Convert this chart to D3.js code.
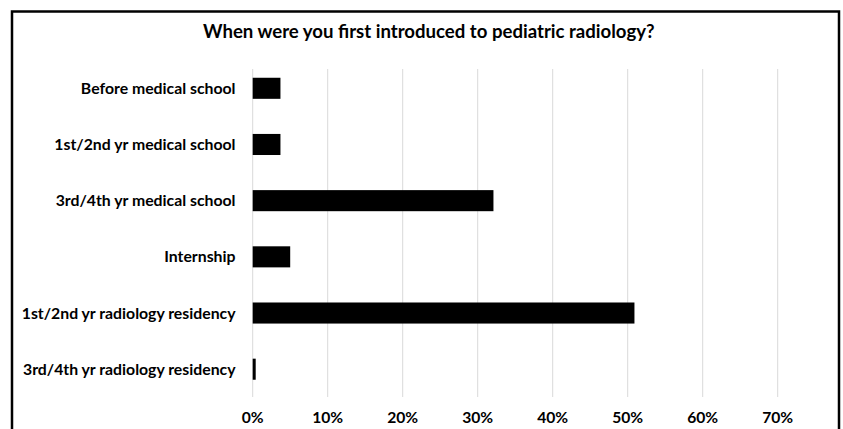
<!DOCTYPE html>
<html>
<head>
<meta charset="utf-8">
<script src="https://cdn.jsdelivr.net/npm/d3@7"></script>
<style>
  html, body { margin: 0; padding: 0; background: #fff; }
  svg { display: block; }
  text { font-family: Lato, "Open Sans", sans-serif; font-weight: bold; fill: #000; }
</style>
</head>
<body>
<svg id="chart" width="843" height="429"></svg>
<script>
const title = "When were you first introduced to pediatric radiology?";
const categories = [
  "Before medical school",
  "1st/2nd yr medical school",
  "3rd/4th yr medical school",
  "Internship",
  "1st/2nd yr radiology residency",
  "3rd/4th yr radiology residency"
];
const values = [0.037, 0.037, 0.321, 0.050, 0.509, 0.004];
const tickValues = [0, 0.1, 0.2, 0.3, 0.4, 0.5, 0.6, 0.7];

const svg = d3.select("#chart");
const W = 843, H = 429;

// frame
svg.append("rect")
  .attr("x", 12).attr("y", 11.5)
  .attr("width", 827).attr("height", 440)
  .attr("fill", "none").attr("stroke", "#000").attr("stroke-width", 2.5);

const x = d3.scaleLinear().domain([0, 0.7]).range([252.7, 777.7]);
const y = d3.scaleBand().domain(categories).range([60.2, 397.3]).paddingInner(0.625).paddingOuter(0.3125);

// gridlines
svg.append("g").selectAll("line").data(tickValues).join("line")
  .attr("x1", d => x(d)).attr("x2", d => x(d))
  .attr("y1", 69).attr("y2", 397)
  .attr("stroke", "#d9d9d9").attr("stroke-width", 1);

// bars
svg.append("g").selectAll("rect").data(values).join("rect")
  .attr("x", x(0))
  .attr("y", (d, i) => y(categories[i]))
  .attr("width", d => x(d) - x(0))
  .attr("height", y.bandwidth())
  .attr("fill", "#000");

function fitText(sel, targetWidth, baseSize) {
  sel.attr("font-size", baseSize);
  const w = sel.node().getComputedTextLength();
  sel.attr("font-size", baseSize * targetWidth / w);
}

// title
const t = svg.append("text")
  .attr("x", (202.7 + 655) / 2).attr("y", 38)
  .attr("text-anchor", "middle")
  .text(title);
fitText(t, 452, 17);

// category labels
const labels = svg.append("g").selectAll("text").data(categories).join("text")
  .attr("x", 235.5)
  .attr("y", d => y(d) + y.bandwidth() / 2)
  .attr("dy", "0.35em")
  .attr("text-anchor", "end")
  .text(d => d);
// fit size using the longest label
const ref = labels.filter(d => d === "1st/2nd yr radiology residency");
ref.attr("font-size", 14);
const rw = ref.node().getComputedTextLength();
labels.attr("font-size", 14 * 214 / rw);

// x axis tick labels
const fmt = d3.format(".0%");
const ticks = svg.append("g").selectAll("text").data(tickValues).join("text")
  .attr("x", d => x(d))
  .attr("y", 423)
  .attr("text-anchor", "middle")
  .text(d => fmt(d));
const t0 = ticks.filter(d => d === 0.1);
t0.attr("font-size", 14);
const tw = t0.node().getComputedTextLength();
ticks.attr("font-size", 14 * 31 / tw);
</script>
</body>
</html>
